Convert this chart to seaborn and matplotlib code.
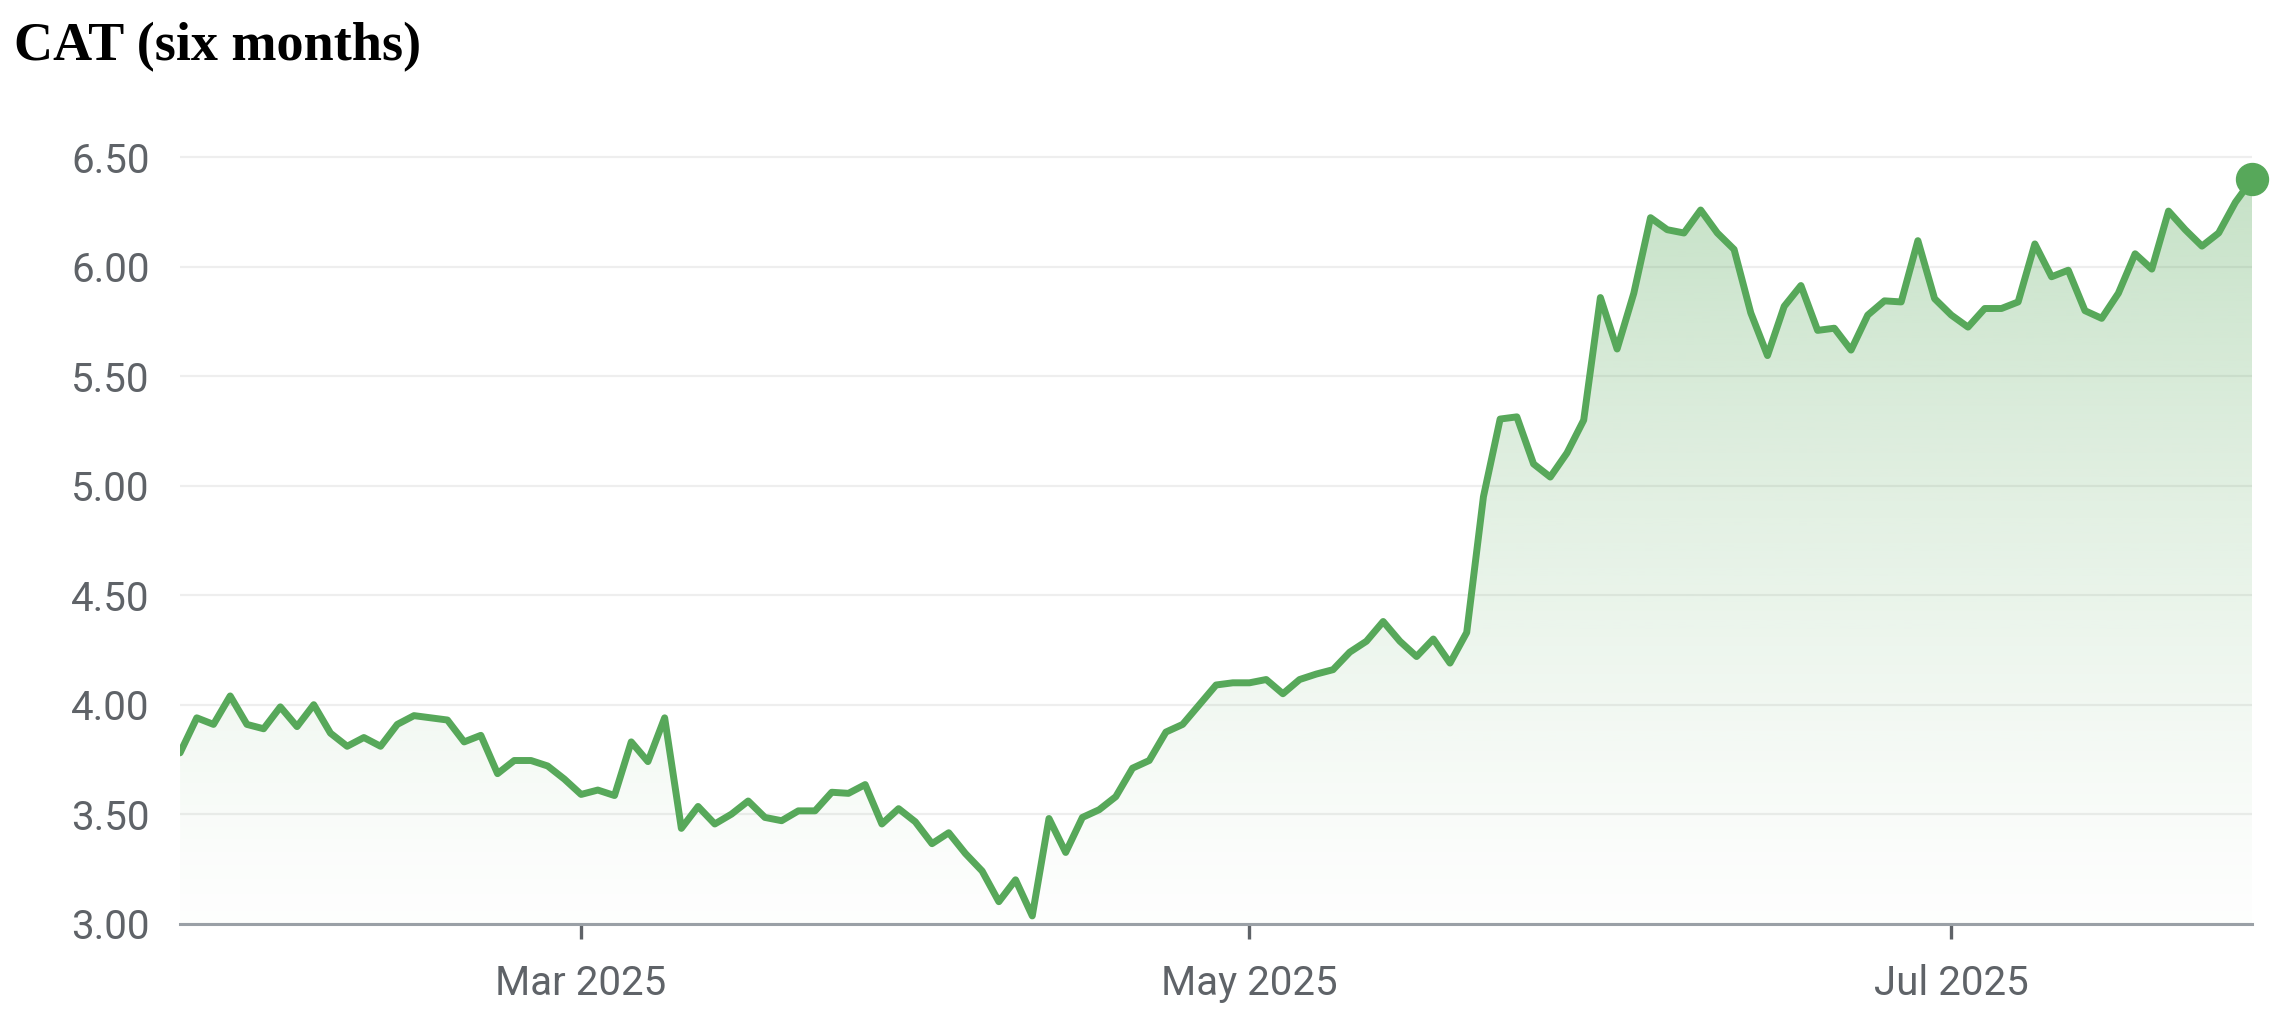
import numpy as np
import pandas as pd
import matplotlib
matplotlib.use("Agg")
import matplotlib.pyplot as plt
import seaborn as sns
from matplotlib.patches import PathPatch

# ASX trading days over the six months (exchange holidays removed)
asx_holidays = ["2025-04-18", "2025-04-21", "2025-04-25", "2025-06-09"]
dates = pd.bdate_range("2025-01-28", "2025-07-25", freq="C", holidays=asx_holidays)

# closing prices
prices = [
    3.78, 3.94, 3.91, 4.04, 3.91, 3.89, 3.99, 3.90, 4.00, 3.87,
    3.81, 3.85, 3.81, 3.91, 3.95, 3.94, 3.93, 3.83, 3.86, 3.685,
    3.745, 3.745, 3.72, 3.66, 3.59, 3.61, 3.585, 3.83, 3.74, 3.94,
    3.435, 3.535, 3.455, 3.50, 3.56, 3.485, 3.47, 3.515, 3.515, 3.60,
    3.595, 3.635, 3.455, 3.525, 3.465, 3.365, 3.415, 3.32, 3.24, 3.10,
    3.20, 3.035, 3.48, 3.325, 3.485, 3.52, 3.58, 3.71, 3.745, 3.875,
    3.91, 4.00, 4.09, 4.10, 4.10, 4.115, 4.05, 4.115, 4.14, 4.16,
    4.24, 4.29, 4.38, 4.29, 4.22, 4.30, 4.19, 4.33, 4.95, 5.305,
    5.315, 5.10, 5.04, 5.15, 5.30, 5.86, 5.625, 5.88, 6.225, 6.17,
    6.155, 6.26, 6.155, 6.08, 5.79, 5.595, 5.82, 5.915, 5.71, 5.72,
    5.62, 5.78, 5.845, 5.84, 6.12, 5.855, 5.78, 5.725, 5.81, 5.81,
    5.84, 6.105, 5.955, 5.985, 5.80, 5.765, 5.88, 6.06, 5.99, 6.255,
    6.17, 6.095, 6.155, 6.295, 6.40,
]

tick_months = ["2025-03", "2025-05", "2025-07"]
tick_labels = ["Mar 2025", "May 2025", "Jul 2025"]
y_ticks = [3.0, 3.5, 4.0, 4.5, 5.0, 5.5, 6.0, 6.5]

green = "#57a85a"
grey_text = "#5f6368"

df = pd.DataFrame({"date": dates, "price": prices})
df["idx"] = np.arange(len(df))

sns.set_style("white")
plt.rcParams["font.family"] = ["Roboto", "DejaVu Sans"]

fig = plt.figure(figsize=(22.88, 10.22), dpi=100)
ax = fig.add_axes([0.0787, 0.0963, 0.9056, 0.7539])

# gradient fill under the line
y_floor = y_ticks[0]
grad = np.linspace(0, 1, 256).reshape(-1, 1)
rgba = np.zeros((256, 1, 4))
rgba[..., :3] = matplotlib.colors.to_rgb(green)
rgba[..., 3] = 0.01 + 0.33 * grad ** 1.25
im = ax.imshow(rgba, extent=[df["idx"].min(), df["idx"].max(), y_floor, df["price"].max()],
               origin="lower", aspect="auto", zorder=1, interpolation="bilinear")
fill = ax.fill_between(df["idx"], df["price"], y_floor, color="none", lw=0)
clip = PathPatch(fill.get_paths()[0], transform=ax.transData, facecolor="none", edgecolor="none")
ax.add_patch(clip)
im.set_clip_path(clip)

sns.lineplot(data=df, x="idx", y="price", ax=ax, color=green, linewidth=5,
             zorder=3, solid_joinstyle="round", solid_capstyle="round")
last = df.iloc[-1]
ax.plot(last["idx"], last["price"], "o", color=green, markersize=23, zorder=4, clip_on=False)

ax.set_xlim(df["idx"].min(), df["idx"].max())
ax.set_ylim(y_floor, 6.52)

month_str = df["date"].dt.strftime("%Y-%m")
xpos = [int(df["idx"][month_str == m].iloc[0]) for m in tick_months]
ax.set_xticks(xpos)
ax.set_xticklabels(tick_labels)
ax.set_yticks(y_ticks)
ax.set_yticklabels([f"{v:.2f}" for v in y_ticks])

ax.tick_params(axis="x", bottom=True, length=11, width=2.4, color=grey_text, pad=18,
               labelsize=29, labelcolor=grey_text)
ax.tick_params(axis="y", left=False, length=0, pad=22, labelsize=29, labelcolor=grey_text)

ax.yaxis.grid(True, color="#eeeeee", linewidth=1.6, zorder=0)
ax.xaxis.grid(False)
for s in ["top", "right", "left"]:
    ax.spines[s].set_visible(False)
ax.spines["bottom"].set_color("#9aa0a6")
ax.spines["bottom"].set_linewidth(2.2)
ax.set_xlabel("")
ax.set_ylabel("")

fig.text(0.006, 0.978, "CAT (six months)", family="Liberation Serif", fontweight="bold",
         fontsize=39, va="top", ha="left", color="black")

fig.savefig("out.png", dpi=100, facecolor="white")
